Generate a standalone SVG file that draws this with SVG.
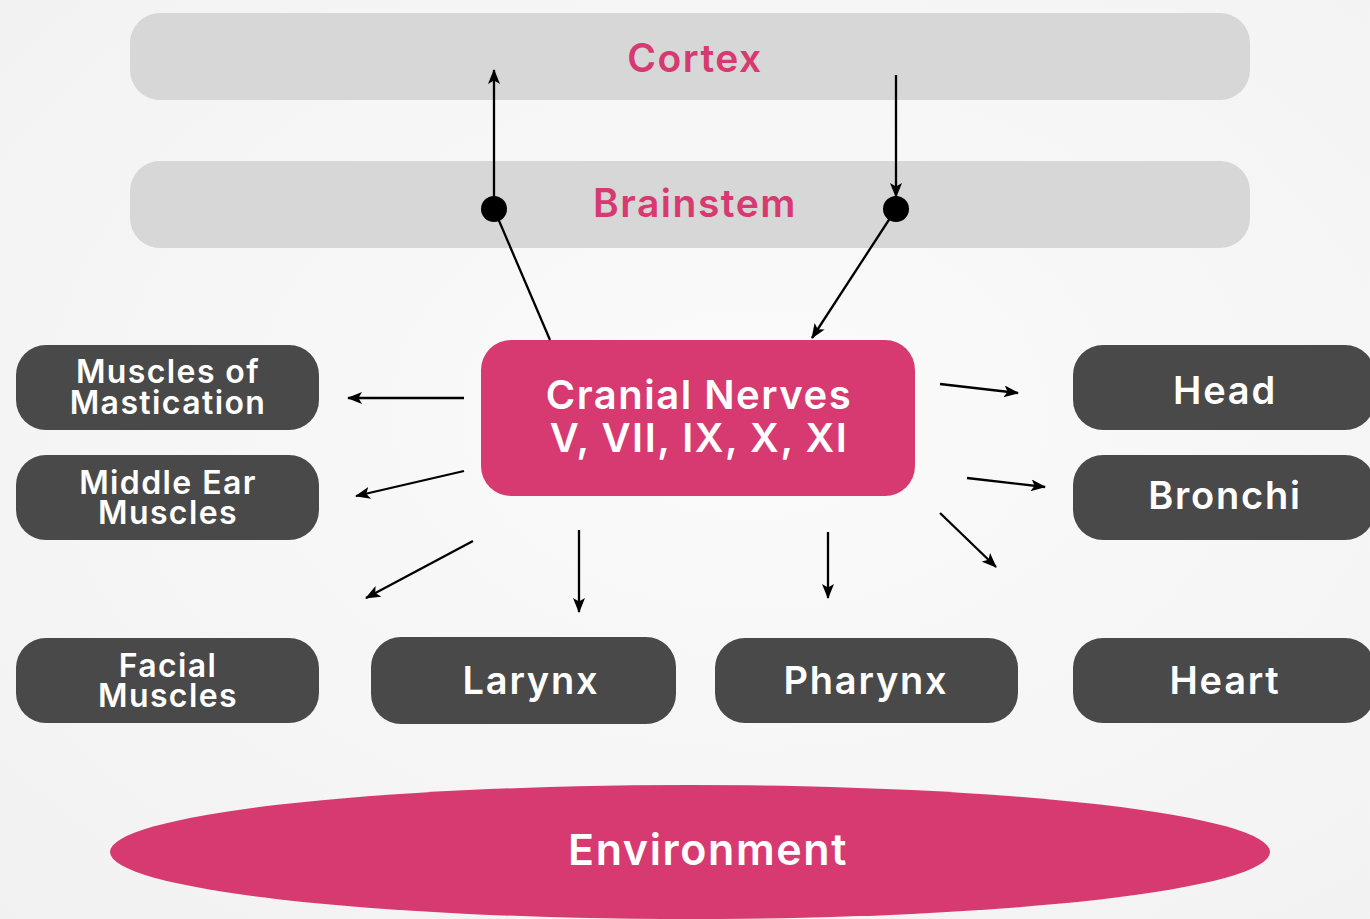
<svg xmlns="http://www.w3.org/2000/svg" width="1370" height="919" viewBox="0 0 1370 919">
  <defs>
    <radialGradient id="bg" cx="0.55" cy="0.45" r="0.8">
      <stop offset="0" stop-color="#fbfbfb"/>
      <stop offset="1" stop-color="#f1f1f1"/>
    </radialGradient>
    <marker id="arrow" viewBox="0 0 15 12" refX="14" refY="6" markerWidth="15" markerHeight="12" markerUnits="userSpaceOnUse" orient="auto">
      <path d="M0,0 L15,6 L0,12 L3.5,6 Z" fill="#000"/>
    </marker>
    <style>
      text { font-family: Inter, "Noto Sans", sans-serif; font-weight: 600; text-anchor: middle; }
      .band { fill: #d7d7d7; }
      .band-label { font-size: 39px; letter-spacing: 1.5px; fill: #d63a70; }
      .dark { fill: #494949; }
      .dark-label { font-size: 38px; letter-spacing: 1.8px; fill: #ffffff; }
      .small-label { font-size: 32px; letter-spacing: 1.4px; fill: #ffffff; }
      .pink { fill: #d63a70; }
      .pink-label { font-size: 40px; letter-spacing: 1.5px; fill: #ffffff; }
      .env-label { font-size: 43px; letter-spacing: 1.6px; fill: #ffffff; }
      .wire { stroke: #000; stroke-width: 2.3; fill: none; }
      .arrowed { marker-end: url(#arrow); }
      .dot { fill: #000; }
    </style>
  </defs>

  <rect width="1370" height="919" fill="url(#bg)"/>

  <g id="cortex">
    <rect class="band" x="130" y="13" width="1120" height="87" rx="30"/>
    <text class="band-label" x="695" y="72">Cortex</text>
  </g>

  <g id="brainstem">
    <rect class="band" x="130" y="161" width="1120" height="87" rx="30"/>
    <text class="band-label" x="695" y="217">Brainstem</text>
  </g>

  <g id="cranial-nerves">
    <rect class="pink" x="481" y="340" width="434" height="156" rx="30"/>
    <text class="pink-label" x="699" y="409">Cranial Nerves<tspan x="699" dy="43">V, VII, IX, X, XI</tspan></text>
  </g>

  <g id="mastication">
    <rect class="dark" x="16" y="345" width="303" height="85" rx="30"/>
    <text class="small-label" x="168" y="383">Muscles of<tspan x="168" dy="31">Mastication</tspan></text>
  </g>

  <g id="middle-ear">
    <rect class="dark" x="16" y="455" width="303" height="85" rx="30"/>
    <text class="small-label" x="168" y="494">Middle Ear<tspan x="168" dy="30">Muscles</tspan></text>
  </g>

  <g id="facial">
    <rect class="dark" x="16" y="638" width="303" height="85" rx="30"/>
    <text class="small-label" x="168" y="677">Facial<tspan x="168" dy="30">Muscles</tspan></text>
  </g>

  <g id="larynx">
    <rect class="dark" x="371" y="637" width="305" height="87" rx="30"/>
    <text class="dark-label" x="531" y="694">Larynx</text>
  </g>

  <g id="pharynx">
    <rect class="dark" x="715" y="638" width="303" height="85" rx="30"/>
    <text class="dark-label" x="866" y="694">Pharynx</text>
  </g>

  <g id="head">
    <rect class="dark" x="1073" y="345" width="302" height="85" rx="30"/>
    <text class="dark-label" x="1225" y="404">Head</text>
  </g>

  <g id="bronchi">
    <rect class="dark" x="1073" y="455" width="302" height="85" rx="30"/>
    <text class="dark-label" x="1225" y="509">Bronchi</text>
  </g>

  <g id="heart">
    <rect class="dark" x="1073" y="638" width="302" height="85" rx="30"/>
    <text class="dark-label" x="1225" y="694">Heart</text>
  </g>

  <g id="environment">
    <ellipse class="pink" cx="690" cy="852" rx="580" ry="67"/>
    <text class="env-label" x="708" y="865">Environment</text>
  </g>

  <g id="connectors">
    <!-- ascending path: cranial nerves -> brainstem relay -> cortex -->
    <line class="wire" x1="550" y1="340" x2="494" y2="209"/>
    <line class="wire arrowed" x1="494" y1="209" x2="494" y2="70"/>
    <circle class="dot" cx="494" cy="209" r="13"/>

    <!-- descending path: cortex -> brainstem relay -> cranial nerves -->
    <line class="wire arrowed" x1="896" y1="75" x2="896" y2="197"/>
    <line class="wire arrowed" x1="896" y1="209" x2="812" y2="338"/>
    <circle class="dot" cx="896" cy="209" r="13"/>

    <!-- outputs to the left -->
    <line class="wire arrowed" x1="464" y1="398" x2="348" y2="398"/>
    <line class="wire arrowed" x1="464" y1="471" x2="356" y2="496"/>
    <line class="wire arrowed" x1="473" y1="541" x2="366" y2="598"/>

    <!-- outputs downward -->
    <line class="wire arrowed" x1="579" y1="530" x2="579" y2="612"/>
    <line class="wire arrowed" x1="828" y1="532" x2="828" y2="598"/>

    <!-- outputs to the right -->
    <line class="wire arrowed" x1="940" y1="384" x2="1018" y2="393"/>
    <line class="wire arrowed" x1="967" y1="478" x2="1045" y2="487"/>
    <line class="wire arrowed" x1="940" y1="513" x2="996" y2="567"/>
  </g>
</svg>
